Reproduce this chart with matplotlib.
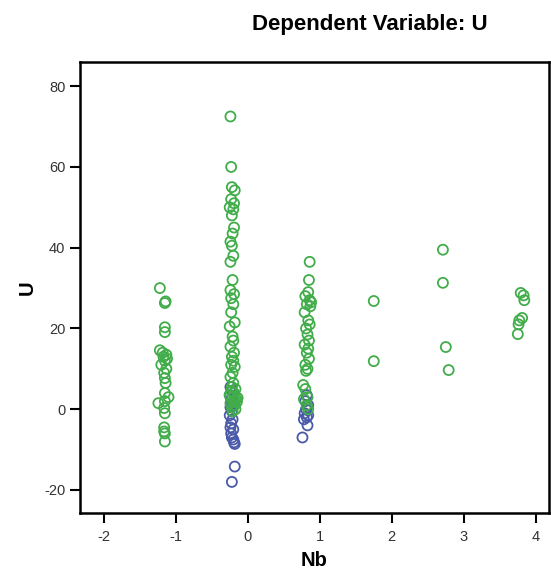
import matplotlib
matplotlib.use("Agg")
import matplotlib.pyplot as plt

plt.rcParams['font.family'] = ['Liberation Sans', 'DejaVu Sans']
plt.rcParams['axes.unicode_minus'] = False

# green group
green_x = [-1.22, -1.14, -1.15, -1.15, -1.15, -1.22, -1.18, -1.13, -1.17, -1.12, -1.15, -1.20, -1.13,
           -1.16, -1.15, -1.14, -1.15, -1.10, -1.16, -1.24, -1.15, -1.15, -1.16, -1.16, -1.15, -1.15,
           -0.24, -0.23, -0.22, -0.18, -0.23, -0.19, -0.25, -0.20, -0.22, -0.19, -0.21, -0.24, -0.22,
           -0.20, -0.24, -0.21, -0.24, -0.19, -0.23, -0.20, -0.23, -0.18, -0.25, -0.21, -0.20, -0.24,
           -0.19, -0.22, -0.20, -0.23, -0.18, -0.21, -0.24, -0.20, -0.22, -0.17, -0.23, -0.19, -0.25,
           -0.21, -0.16, -0.20, -0.24, -0.18, -0.22, -0.17, -0.15, -0.19, -0.14, -0.21,
           0.86, 0.85, 0.84, 0.80, 0.86, 0.88, 0.82, 0.87, 0.79, 0.84, 0.86, 0.81, 0.83, 0.85, 0.79,
           0.84, 0.82, 0.85, 0.80, 0.83, 0.81, 0.77, 0.80, 0.83, 0.78, 0.82, 0.84,
           1.75, 1.75, 2.71, 2.71, 2.75, 2.79, 3.79, 3.83, 3.84, 3.81, 3.77, 3.76, 3.75]
green_y = [30.0, 26.7, 26.3, 20.3, 19.1, 14.6, 14.0, 13.5, 13.0, 12.5, 12.0, 11.0, 10.0,
           9.0, 7.7, 6.5, 4.0, 3.0, 0.3, 1.5, 2.0, -1.0, -4.5, -5.5, -6.0, -8.0,
           72.5, 60.0, 55.0, 54.2, 52.0, 51.0, 50.0, 49.5, 48.0, 45.0, 43.5, 41.5, 40.5,
           38.0, 36.5, 32.0, 29.5, 28.5, 27.5, 26.0, 24.0, 21.5, 20.5, 18.0, 17.0, 15.5,
           14.0, 13.0, 12.0, 11.0, 10.5, 9.0, 8.0, 6.5, 5.5, 5.0, 4.5, 4.0, 3.5,
           3.0, 2.5, 2.0, 1.5, 1.0, 0.5, 0.0, 1.8, 2.2, 2.8, -0.5,
           36.5, 32.0, 29.0, 28.0, 27.0, 26.5, 26.0, 25.5, 24.0, 22.0, 21.0, 20.0, 18.5, 17.0, 16.0,
           15.0, 14.0, 12.5, 11.0, 10.0, 9.5, 6.0, 5.0, 3.0, 2.5, 1.0, 0.0,
           26.8, 11.9, 39.5, 31.3, 15.4, 9.7, 28.8, 28.2, 27.0, 22.6, 22.0, 21.0, 18.6]

# blue group
blue_x = [-0.24, -0.22, -0.25, -0.23, -0.20, -0.24, -0.22, -0.25, -0.21, -0.23, -0.24, -0.20,
          -0.23, -0.22, -0.20, -0.19, -0.18, -0.18, -0.22,
          0.82, 0.80, 0.84, 0.81, 0.79, 0.84, 0.82, 0.78, 0.83, 0.76]
blue_y = [5.5, 4.5, 3.5, 2.5, 1.5, 0.5, -0.5, -1.5, -2.5, -3.5, -4.5, -5.0,
          -6.0, -7.0, -7.5, -8.2, -8.6, -14.2, -18.0,
          3.5, 2.0, 1.0, 0.0, -1.0, -1.5, -2.0, -2.5, -4.0, -7.0]

fig = plt.figure(figsize=(5.51, 5.79), dpi=100)
ax = fig.add_axes([0.145, 0.114, 0.851, 0.779])

ax.scatter(blue_x, blue_y, s=52, facecolors='none', edgecolors='#4a5aa8', linewidths=1.3)
ax.scatter(green_x, green_y, s=52, facecolors='none', edgecolors='#41ad4a', linewidths=1.3)

ax.set_xlim(-2.33, 4.18)
ax.set_ylim(-25.7, 86)
ax.set_xticks([-2, -1, 0, 1, 2, 3, 4])
ax.set_yticks([-20, 0, 20, 40, 60, 80])
for sp in ax.spines.values():
    sp.set_linewidth(1.8)
ax.tick_params(direction='out', length=7.5, width=1.5, labelsize=10.5, labelcolor='#333333')
ax.tick_params(axis='y', pad=3)
ax.tick_params(axis='x', pad=5)

ax.set_xlabel("Nb", fontsize=14.5, fontweight='bold', labelpad=5)
ax.set_ylabel("U", fontsize=14.5, fontweight='bold', labelpad=5)
fig.text(0.672, 0.958, "Dependent Variable: U", ha='center', va='center',
         fontsize=16, fontweight='bold')

fig.savefig("out.png", dpi=100)
